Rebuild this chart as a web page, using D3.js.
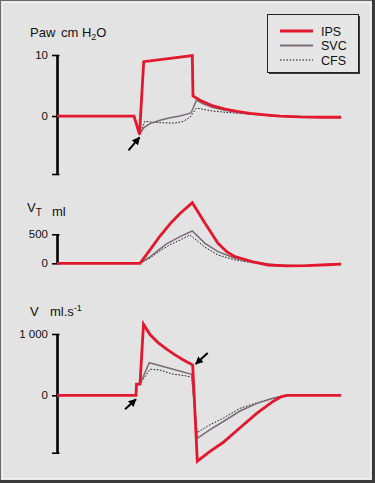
<!DOCTYPE html>
<html>
<head>
<meta charset="utf-8">
<script src="https://cdn.jsdelivr.net/npm/d3@7"></script>
<style>
  body { margin: 0; background: #fff; }
  svg { display: block; font-family: "Liberation Sans", Arial, sans-serif; }
</style>
</head>
<body>
<svg id="chart"></svg>
<script>
const width = 375;
const height = 483;

const seriesNames = ["IPS", "SVC", "CFS"];

// time in ms, value in cm H2O
const pawIPS = [[0,0],[770,0],[825,-3.0],[867,8.9],[1353,9.9],[1360,3.3],[1430,2.6],[1560,1.65],[1680,1.15],[1800,0.75],[1930,0.45],[2080,0.2],[2230,0.0],[2430,-0.15],[2630,-0.2],[2840,-0.2]];
const pawSVC = [[0,0],[770,0],[825,-3.0],[870,-1.9],[930,-1.25],[1030,-0.7],[1130,-0.3],[1230,0.0],[1340,0.5],[1395,2.6],[1460,2.0],[1560,1.4],[1680,0.95],[1800,0.6],[1930,0.35],[2080,0.12],[2230,-0.05],[2430,-0.15],[2840,-0.2]];
const pawCFS = [[0,0],[770,0],[825,-3.0],[880,-0.85],[950,-1.0],[1050,-1.1],[1180,-1.15],[1260,-0.9],[1330,-0.2],[1395,1.3],[1560,0.8],[1730,0.55],[1900,0.35],[2080,0.15],[2230,0],[2840,-0.15]];

// time in ms, volume in ml
const vtIPS = [[0,0],[830,0],[930,230],[1030,470],[1130,680],[1230,860],[1353,1045],[1480,690],[1610,345],[1700,195],[1780,114],[1950,28],[2110,-29],[2300,-45],[2500,-40],[2700,-25],[2840,-15]];
const vtSVC = [[0,0],[830,0],[930,110],[1030,250],[1100,340],[1230,460],[1353,557],[1480,345],[1610,200],[1780,86],[1950,28],[2050,0],[2200,-30],[2400,-42],[2840,-15]];
const vtCFS = [[0,0],[830,0],[930,90],[1030,215],[1130,320],[1230,400],[1330,488],[1480,276],[1610,143],[1780,57],[1950,10],[2050,-5],[2200,-35],[2400,-42],[2840,-15]];

// time in ms, flow in ml/s
const flowIPS = [[0,0],[790,0],[795,184],[830,184],[865,1160],[930,990],[1010,860],[1100,750],[1180,660],[1260,580],[1357,494],[1403,-1075],[1530,-915],[1660,-770],[1830,-530],[2000,-290],[2160,-100],[2240,-25],[2300,0],[2840,0]];
const flowSVC = [[0,0],[790,0],[795,184],[830,184],[923,532],[1347,343],[1403,-702],[1530,-560],[1660,-431],[1830,-256],[2000,-131],[2160,-49],[2300,0],[2840,0]];
const flowCFS = [[0,0],[790,0],[795,184],[830,184],[930,426],[1030,413],[1160,345],[1280,320],[1347,293],[1400,-610],[1530,-480],[1660,-375],[1830,-212],[2000,-121],[2160,-44],[2280,0],[2840,0]];

const pawTicks = [-9.5, 0, 10];
const pawTickLabels = ["", "0", "10"];
const vtTicks = [0, 500];
const vtTickLabels = ["0", "500"];
const flowTicks = [-936, 0, 1000];
const flowTickLabels = ["", "0", "1 000"];

// annotation arrows: [panel, time, value]
const arrows = [["paw", 825, -3.0], ["flow", 790, 0], ["flow", 1357, 494]];

const colors = { IPS: "#e3172d", SVC: "#7a6b74", CFS: "#1a1a1a" };

const svg = d3.select("#chart")
    .attr("width", width)
    .attr("height", height);

// background + frame
svg.append("rect").attr("width", width).attr("height", height).attr("fill", "#e3e3e3");
svg.append("rect").attr("x", 0.5).attr("y", 0.5).attr("width", width - 1).attr("height", height - 1)
    .attr("fill", "none").attr("stroke", "#6a6a6a");
svg.append("rect").attr("x", 372).attr("y", 0).attr("width", 3).attr("height", height).attr("fill", "#3a3a3a");
svg.append("rect").attr("x", 0).attr("y", 480).attr("width", width).attr("height", 3).attr("fill", "#3a3a3a");
svg.append("rect").attr("x", 2.5).attr("y", 2.5).attr("width", 368).attr("height", 476)
    .attr("fill", "none").attr("stroke", "#f3f3f3");

const x = d3.scaleLinear().domain([0, 2840]).range([57, 341]);

const panels = [
    { key: "paw", y: d3.scaleLinear().domain([-9.5, 10]).range([174, 55]), ticks: pawTicks, labels: pawTickLabels,
      data: { IPS: pawIPS, SVC: pawSVC, CFS: pawCFS } },
    { key: "vt", y: d3.scaleLinear().domain([0, 500]).range([263.3, 234.3]), ticks: vtTicks, labels: vtTickLabels,
      data: { IPS: vtIPS, SVC: vtSVC, CFS: vtCFS } },
    { key: "flow", y: d3.scaleLinear().domain([-936, 1000]).range([452.7, 334]), ticks: flowTicks, labels: flowTickLabels,
      data: { IPS: flowIPS, SVC: flowSVC, CFS: flowCFS } }
];

const line = y => d3.line().x(d => x(d[0])).y(d => y(d[1]));

panels.forEach(p => {
    const axis = d3.axisLeft(p.y)
        .tickValues(p.ticks)
        .tickFormat((d, i) => p.labels[i])
        .tickSize(6)
        .tickSizeOuter(0);

    const g = svg.append("g")
        .attr("transform", `translate(${x(0)},0)`)
        .call(axis);
    g.select(".domain").attr("stroke", "#000").attr("stroke-width", 2.6);
    g.selectAll(".tick line").attr("x1", 2.5).attr("x2", -5).attr("stroke", "#000").attr("stroke-width", 1.6);
    g.selectAll(".tick text").attr("x", -9).attr("font-size", 11.5).attr("fill", "#111")
        .attr("font-family", "Liberation Sans, Arial, sans-serif");

    // CFS first, IPS on top
    seriesNames.slice().reverse().forEach(name => {
        svg.append("path")
            .datum(p.data[name])
            .attr("d", line(p.y))
            .attr("fill", "none")
            .attr("stroke", colors[name])
            .attr("stroke-width", name === "IPS" ? 2.8 : name === "SVC" ? 1.5 : 1)
            .attr("stroke-dasharray", name === "CFS" ? "1.6,1.6" : null)
            .attr("stroke-linejoin", "miter");
    });
});

// arrowheads
svg.append("defs").append("marker")
    .attr("id", "head")
    .attr("viewBox", "0 0 10 10")
    .attr("refX", 9).attr("refY", 5)
    .attr("markerWidth", 4).attr("markerHeight", 4)
    .attr("orient", "auto")
    .append("path").attr("d", "M0,0L10,5L0,10z").attr("fill", "#000");

const arrowDir = [[-11, 13, 0, 3], [-11, 10, 0, 4], [12, -11, 3, -1]];
arrows.forEach((a, i) => {
    const p = panels.find(q => q.key === a[0]);
    const [dx, dy, ox, oy] = arrowDir[i];
    const hx = x(a[1]) + ox, hy = p.y(a[2]) + oy;
    svg.append("line")
        .attr("x1", hx + dx).attr("y1", hy + dy)
        .attr("x2", hx).attr("y2", hy)
        .attr("stroke", "#000").attr("stroke-width", 2)
        .attr("marker-end", "url(#head)");
});

// panel titles
const title = svg.append("g").attr("font-size", 13).attr("fill", "#111");
title.append("text").attr("x", 30).attr("y", 37).text("Paw");
const t1 = title.append("text").attr("x", 61).attr("y", 37);
t1.append("tspan").text("cm H");
t1.append("tspan").attr("dy", 3).attr("font-size", 9).text("2");
t1.append("tspan").attr("dy", -3).text("O");

const t2 = title.append("text").attr("x", 27).attr("y", 212);
t2.append("tspan").text("V");
t2.append("tspan").attr("dy", 4).attr("font-size", 10).text("T");
title.append("text").attr("x", 52).attr("y", 216).text("ml");

title.append("text").attr("x", 30).attr("y", 316).text("V");
const t3 = title.append("text").attr("x", 50).attr("y", 316);
t3.append("tspan").text("ml.s");
t3.append("tspan").attr("dy", -5).attr("font-size", 9).text("-1");

// legend
const legend = svg.append("g");
legend.append("rect").attr("x", 269).attr("y", 16).attr("width", 91).attr("height", 58).attr("fill", "#3a3a3a");
legend.append("rect").attr("x", 267.5).attr("y", 14.5).attr("width", 91).attr("height", 58)
    .attr("fill", "#e6e6e6").attr("stroke", "#222").attr("stroke-width", 1);
seriesNames.forEach((name, i) => {
    const ly = 31 + i * 14.5;
    legend.append("line")
        .attr("x1", 280).attr("x2", 313).attr("y1", ly).attr("y2", ly)
        .attr("stroke", colors[name])
        .attr("stroke-width", name === "IPS" ? 2.8 : name === "SVC" ? 2 : 1)
        .attr("stroke-dasharray", name === "CFS" ? "1.6,1.6" : null);
    legend.append("text")
        .attr("x", 321).attr("y", ly + 4.5)
        .attr("font-size", 12.5).attr("fill", "#111")
        .text(name);
});
</script>
</body>
</html>
